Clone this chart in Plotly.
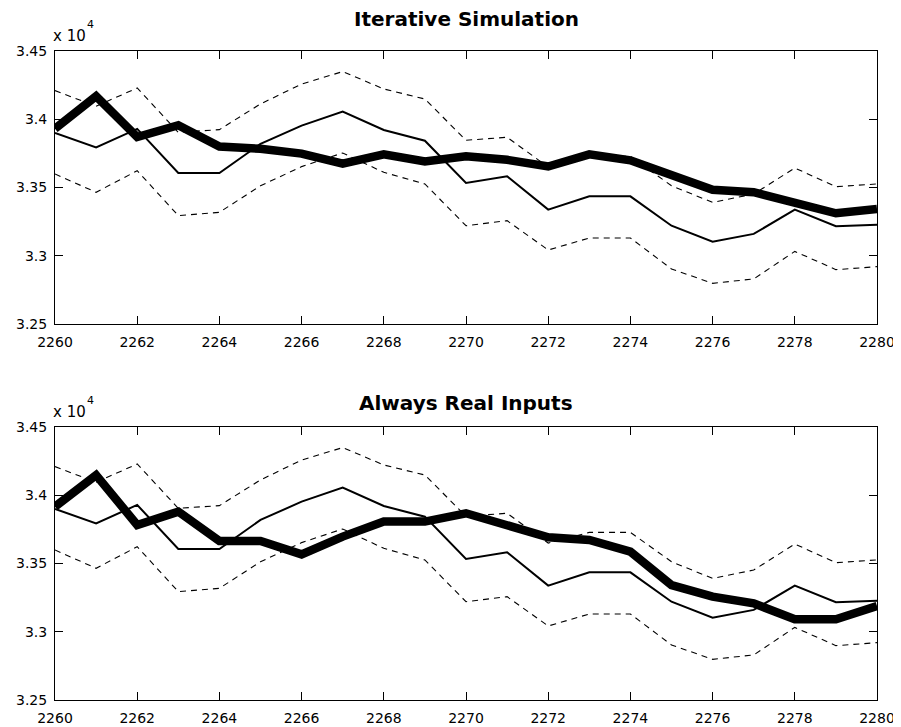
import plotly.graph_objects as go
from plotly.subplots import make_subplots

years = list(range(2260, 2281))

# measured output (thin solid) and its confidence band (dashed), same in both panels
actual = [33900, 33794, 33929, 33606, 33606, 33819, 33953, 34056, 33921, 33843, 33533,
          33582, 33338, 33435, 33435, 33220, 33103, 33160, 33338, 33216, 33228]
band_upper = [34210, 34095, 34229, 33904, 33924, 34112, 34258, 34349, 34222, 34148, 33846,
              33868, 33650, 33728, 33728, 33513, 33391, 33452, 33643, 33506, 33526]
band_lower = [33599, 33465, 33623, 33294, 33318, 33513, 33653, 33753, 33611, 33526, 33220,
              33257, 33042, 33130, 33130, 32903, 32798, 32830, 33032, 32898, 32920]

# model predictions (thick)
iterative_sim = [33931, 34169, 33870, 33956, 33800, 33784, 33748, 33674, 33743, 33691, 33728,
                 33703, 33654, 33743, 33699, 33584, 33483, 33466, 33385, 33311, 33343]
real_inputs = [33916, 34148, 33782, 33880, 33665, 33665, 33567, 33697, 33807, 33807, 33868,
               33777, 33692, 33672, 33587, 33342, 33257, 33208, 33091, 33091, 33189]

titles = ["Iterative Simulation", "Always Real Inputs"]
y_ticks = [32500, 33000, 33500, 34000, 34500]
y_tick_text = ["3.25", "3.3", "3.35", "3.4", "3.45"]
x_ticks = list(range(2260, 2281, 2))

FONT = "DejaVu Sans"

fig = make_subplots(rows=2, cols=1, vertical_spacing=0.1587)

for row, pred in enumerate([iterative_sim, real_inputs], start=1):
    for band in (band_upper, band_lower):
        fig.add_trace(go.Scatter(x=years, y=band, mode="lines",
                                 line=dict(color="black", width=1.1, dash="6px,5px")),
                      row=row, col=1)
    fig.add_trace(go.Scatter(x=years, y=actual, mode="lines",
                             line=dict(color="black", width=2)), row=row, col=1)
    fig.add_trace(go.Scatter(x=years, y=pred, mode="lines",
                             line=dict(color="black", width=8.5)), row=row, col=1)

fig.update_xaxes(range=[2260, 2280], tickvals=x_ticks, ticks="inside", ticklen=8,
                 tickcolor="black", showline=True, linecolor="black", linewidth=1,
                 mirror="ticks", showgrid=False, zeroline=False, ticklabelstandoff=5,
                 automargin=False, tickfont=dict(family=FONT, size=14, color="black"))
fig.update_yaxes(range=[32500, 34500], tickvals=y_ticks, ticktext=y_tick_text,
                 ticks="inside", ticklen=8, tickcolor="black", showline=True,
                 linecolor="black", linewidth=1, mirror="ticks", showgrid=False,
                 zeroline=False, ticklabelstandoff=4, automargin=False,
                 tickfont=dict(family=FONT, size=14, color="black"))

# the page body adds an 8px offset, so the figure is sized to sit inside it
fig.update_layout(
    template="none",
    width=893, height=719,
    margin=dict(l=47, r=24, t=43, b=27),
    paper_bgcolor="white", plot_bgcolor="white",
    showlegend=False,
    font=dict(family=FONT, color="black"),
)

title_shift = [18, 10]
for i, title in enumerate(titles):
    xref = "x domain" if i == 0 else "x2 domain"
    yref = "y domain" if i == 0 else "y2 domain"
    fig.add_annotation(text="<b>%s</b>" % title, xref=xref, yref=yref, x=0.5, y=1,
                       xanchor="center", yanchor="bottom", yshift=title_shift[i],
                       showarrow=False, font=dict(family=FONT, size=20, color="black"))
    fig.add_annotation(text="x 10", xref=xref, yref=yref, x=0, y=1,
                       xanchor="left", yanchor="bottom", xshift=-4, yshift=4,
                       showarrow=False, font=dict(family=FONT, size=15, color="black"))
    fig.add_annotation(text="4", xref=xref, yref=yref, x=0, y=1,
                       xanchor="left", yanchor="bottom", xshift=30, yshift=18,
                       showarrow=False, font=dict(family=FONT, size=11, color="black"))

fig.write_html("out.html")
